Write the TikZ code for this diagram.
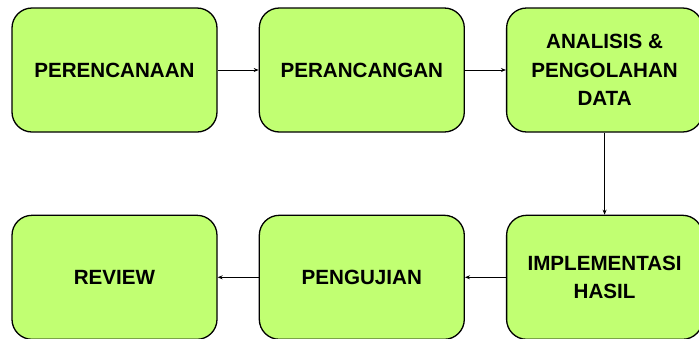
\documentclass[tikz,border=0pt]{standalone}
\usepackage{fontspec}
\setmainfont{Liberation Sans}
\usetikzlibrary{arrows.meta, positioning}
\definecolor{TahapHijau}{HTML}{C1FF72}

\begin{document}
\begin{tikzpicture}[
        x=1pt, y=1pt,
        node distance=82pt and 41pt,
        tahap/.style={rectangle, rounded corners=20pt, draw=black, fill=TahapHijau, line width=1.3pt, minimum width=205pt, minimum height=124pt, align=center, font=\bfseries\fontsize{20.6}{28.5}\selectfont},
        panah/.style={-{Stealth[length=5pt, width=4pt]}, line width=0.9pt}
    ]
        \useasboundingbox (0,0) rectangle (699,-338);

        \node[tahap] (plan) at (114.5,-70) {PERENCANAAN};
        \node[tahap, right=of plan] (rancang) {PERANCANGAN};
        \node[tahap, right=of rancang, minimum width=196pt] (analisis) {ANALISIS \&\\PENGOLAHAN\\DATA};

        \node[tahap, below=of analisis, minimum width=196pt] (impl) {IMPLEMENTASI\\HASIL};
        \node[tahap, left=of impl] (uji) {PENGUJIAN};
        \node[tahap, left=of uji] (review) {REVIEW};

        \draw[panah] (plan) -- (rancang);
        \draw[panah] (rancang) -- (analisis);
        \draw[panah] (analisis) -- (impl);
        \draw[panah] (impl) -- (uji);
        \draw[panah] (uji) -- (review);

    \end{tikzpicture}
\end{document}
